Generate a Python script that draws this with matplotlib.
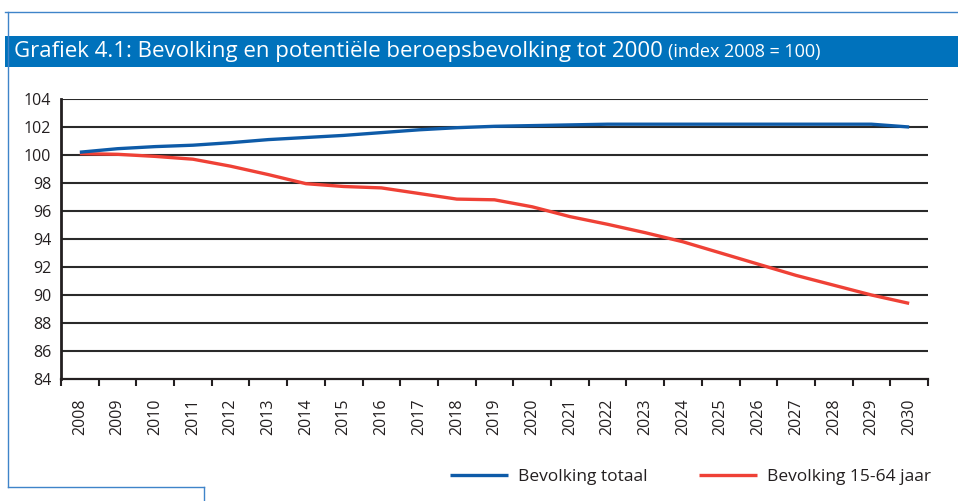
import matplotlib
matplotlib.use("Agg")
import matplotlib.pyplot as plt
from matplotlib.lines import Line2D
from matplotlib.patches import Rectangle

plt.rcParams['font.family'] = ['Open Sans', 'DejaVu Sans']

years = [str(y) for y in range(2008, 2031)]
bevolking_totaal = [100.2, 100.45, 100.6, 100.7, 100.88, 101.1, 101.25, 101.4, 101.6,
                    101.8, 101.95, 102.05, 102.1, 102.15, 102.2, 102.2, 102.2, 102.2,
                    102.2, 102.2, 102.2, 102.2, 102.0]
bevolking_15_64 = [100.1, 100.05, 99.9, 99.7, 99.2, 98.6, 97.95, 97.75, 97.65,
                   97.25, 96.85, 96.8, 96.3, 95.6, 95.05, 94.45, 93.8, 93.0,
                   92.2, 91.4, 90.7, 90.0, 89.4]
y_ticks = list(range(84, 105, 2))

BLUE = '#0E5BA8'
RED = '#EF4136'
BAR = '#0072BC'
FRAME = '#3F84C9'
INK = '#231F20'

W, H = 958, 501
fig = plt.figure(figsize=(W / 100, H / 100), dpi=100)

def fx(px):
    return px / W

def fy(py):
    return 1 - py / H

# page frame
fig.add_artist(Line2D([fx(5), fx(958)], [fy(12), fy(12)], color=FRAME, lw=1))
fig.add_artist(Line2D([fx(8), fx(8)], [fy(12), fy(487)], color=FRAME, lw=1))
fig.add_artist(Line2D([fx(8), fx(204)], [fy(487), fy(487)], color=FRAME, lw=1))
fig.add_artist(Line2D([fx(204), fx(204)], [fy(487), fy(501)], color=FRAME, lw=1))

# title bar
fig.add_artist(Rectangle((fx(5), fy(67)), fx(958) - fx(5), fy(36) - fy(67),
                         color=BAR, lw=0))
t1 = fig.text(fx(14), fy(51), 'Grafiek 4.1: Bevolking en potentiële beroepsbevolking tot 2000',
              color='white', fontsize=16, va='center', ha='left')
fig.canvas.draw()
r = fig.canvas.get_renderer()
bb = t1.get_window_extent(r)
fig.text((bb.x1 + 5) / W, fy(52), '(index 2008 = 100)', color='white',
         fontsize=13, va='center', ha='left')

ax = fig.add_axes([fx(61), fy(379), fx(928) - fx(61), fy(99) - fy(379)])
x = list(range(len(years)))
l1, = ax.plot(x, bevolking_totaal, color=BLUE, lw=2.4, solid_capstyle='butt',
              label='Bevolking totaal', zorder=4)
l2, = ax.plot(x, bevolking_15_64, color=RED, lw=2.4, solid_capstyle='butt',
              label='Bevolking 15-64 jaar', zorder=3)

ax.set_xlim(-0.5, len(years) - 0.5)
ax.set_ylim(84, 104)
ax.set_yticks(y_ticks)
ax.set_yticklabels([str(v) for v in y_ticks], fontsize=11.5, color=INK)
ax.tick_params(axis='y', length=0, pad=7)
ax.set_xticks([i - 0.5 for i in range(len(years) + 1)])
ax.set_xticklabels([])
ax.set_xticks(x, minor=True)
ax.set_xticklabels(years, minor=True, rotation=90, fontsize=11.5, color=INK)
ax.tick_params(axis='x', which='major', length=5, width=1.5, color=INK, direction='out')
ax.tick_params(axis='x', which='minor', length=0, pad=14)

for v in y_ticks[1:]:
    ax.axhline(v, color='#2a2a2a', lw=1.5, zorder=1)

for s in ['top', 'right']:
    ax.spines[s].set_visible(False)
ax.spines['left'].set_color(INK)
ax.spines['left'].set_linewidth(2)
ax.spines['bottom'].set_color(INK)
ax.spines['bottom'].set_linewidth(1.6)

fig.legend(handles=[l1, l2], loc='center left', bbox_to_anchor=(fx(450), fy(477)),
           ncol=2, frameon=False, fontsize=12.5, handlelength=3.33, handletextpad=0.57,
           columnspacing=3.0, borderpad=0, borderaxespad=0,
           labelcolor=INK)

fig.savefig('out.png', dpi=100)
